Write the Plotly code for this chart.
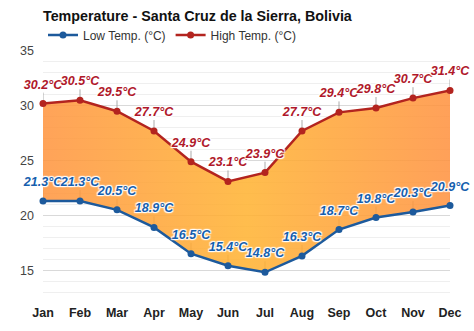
import plotly.graph_objects as go

months = ["Jan", "Feb", "Mar", "Apr", "May", "Jun", "Jul", "Aug", "Sep", "Oct", "Nov", "Dec"]
high = [30.2, 30.5, 29.5, 27.7, 24.9, 23.1, 23.9, 27.7, 29.4, 29.8, 30.7, 31.4]
low = [21.3, 21.3, 20.5, 18.9, 16.5, 15.4, 14.8, 16.3, 18.7, 19.8, 20.3, 20.9]
y_ticks = [15, 20, 25, 30, 35]

FONT = "Liberation Sans, Arial, sans-serif"
HIGH_LINE = "#b3241f"
LOW_LINE = "#1d5a9c"
HIGH_TXT = "#b0182a"
LOW_TXT = "#165fae"
LABEL_OFF = 1.65
LEADER_LEN = 1.0
SHADOW = "1px 1px 1px #fff, -1px -1px 1px #fff, 1px -1px 1px #fff, -1px 1px 1px #fff, 0 0 2px #fff"

fig = go.Figure()

# leader lines
lx, ly = [], []
for m, v in zip(months, high):
    lx += [m, m, None]
    ly += [v, v + LEADER_LEN, None]
for m, v in zip(months, low):
    lx += [m, m, None]
    ly += [v, v + LEADER_LEN, None]
fig.add_trace(go.Scatter(x=lx, y=ly, mode="lines", line=dict(color="rgba(150,150,150,0.8)", width=1),
                         showlegend=False, hoverinfo="skip", cliponaxis=False))

fig.add_trace(go.Scatter(x=months, y=low, mode="lines+markers", name="Low Temp. (°C)",
                         line=dict(color=LOW_LINE, width=2.5),
                         marker=dict(size=7, color=LOW_LINE), cliponaxis=False))
# fill band between low and high
fig.add_trace(go.Scatter(x=months, y=high, mode="lines", line=dict(width=0, color="rgba(0,0,0,0)"),
                         showlegend=False, hoverinfo="skip",
                         fill="tonexty",
                         fillgradient=dict(type="horizontal",
                                           colorscale=[[0, "rgba(255,148,62,0.86)"],
                                                       [0.5, "rgba(255,178,48,0.86)"],
                                                       [1, "rgba(255,145,62,0.86)"]])))
fig.add_trace(go.Scatter(x=months, y=high, mode="lines+markers", name="High Temp. (°C)",
                         line=dict(color=HIGH_LINE, width=2.5),
                         marker=dict(size=7, color=HIGH_LINE), cliponaxis=False))

fig.add_trace(go.Scatter(x=months, y=[v + LABEL_OFF for v in high], mode="text",
                         text=[f"{v:.1f}°C" for v in high], showlegend=False, hoverinfo="skip",
                         cliponaxis=False,
                         textfont=dict(family=FONT, size=12.5, color=HIGH_TXT, weight="bold",
                                       style="italic", shadow=SHADOW)))
fig.add_trace(go.Scatter(x=months, y=[v + LABEL_OFF for v in low], mode="text",
                         text=[f"{v:.1f}°C" for v in low], showlegend=False, hoverinfo="skip",
                         cliponaxis=False,
                         textfont=dict(family=FONT, size=12.5, color=LOW_TXT, weight="bold",
                                       style="italic", shadow=SHADOW)))

fig.update_layout(
    width=474, height=331,
    margin=dict(l=43, r=24, t=51, b=28, autoexpand=False),
    paper_bgcolor="white", plot_bgcolor="white",
    font=dict(family=FONT, size=12, color="#333"),
    title=dict(text="<b>Temperature - Santa Cruz de la Sierra, Bolivia</b>",
               x=43 / 474, xanchor="left", xref="container", y=1 - 16 / 331, yanchor="middle",
               font=dict(family=FONT, size=14.3, color="#111")),
    legend=dict(orientation="h", x=0, xanchor="left", y=1 - 35 / 331, yref="container",
                yanchor="middle", font=dict(family=FONT, size=12, color="#333"),
                itemwidth=30, bgcolor="rgba(0,0,0,0)", traceorder="normal"),
    showlegend=True,
)
fig.update_xaxes(range=[0, 11], showgrid=False, zeroline=False, showline=False,
                 tickfont=dict(family=FONT, size=12.5, color="#222", weight="bold"), ticks="")
fig.update_yaxes(range=[12, 35], tickvals=y_ticks, showgrid=True, gridcolor="#d9d9d9", gridwidth=1,
                 zeroline=False, showline=False, ticks="", ticklabelstandoff=8,
                 tickfont=dict(family=FONT, size=12.5, color="#444"),
                 minor=dict(dtick=1, tick0=12, showgrid=True, gridcolor="#efefef", gridwidth=1))

fig.write_html("out.html")
